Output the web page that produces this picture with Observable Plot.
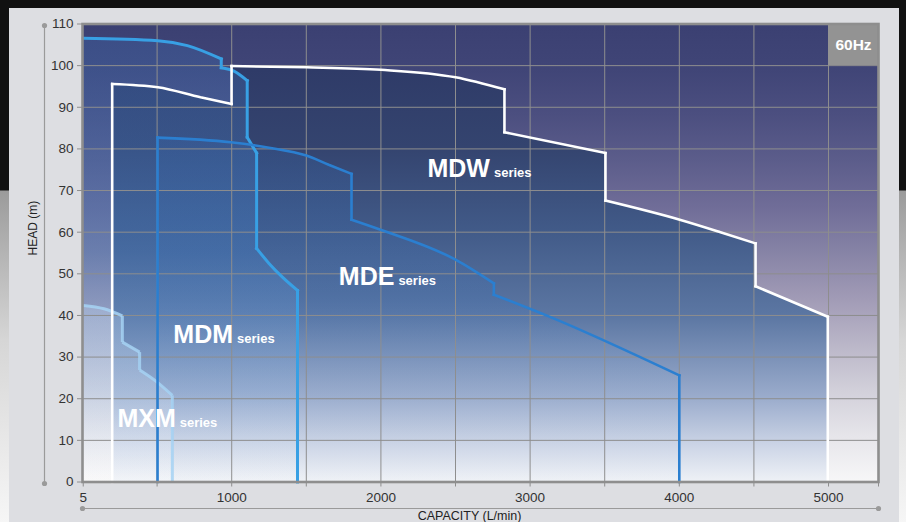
<!DOCTYPE html>
<html><head><meta charset="utf-8">
<script src="https://cdn.jsdelivr.net/npm/d3@7"></script>
<script src="https://cdn.jsdelivr.net/npm/@observablehq/plot@0.6"></script>
<style>
html,body{margin:0;padding:0;width:906px;height:522px;overflow:hidden;background:#111;}
#page{position:relative;width:906px;height:522px;background:linear-gradient(to bottom,#111 0,#111 190px,#9b9b9b 191px,#d6d6d6 340px,#f6f6f6 522px);}
#panel{position:absolute;left:9px;top:8px;width:890px;height:514px;background:#dddee2;}
#chart{position:absolute;left:0;top:0;}
</style></head><body>
<div id="page"><div id="panel"></div><div id="chart"></div></div>
<script>
// ---- data ----
const capacityTicks = [5, 500, 1000, 1500, 2000, 2500, 3000, 3500, 4000, 4500, 5000, 5335];
const capacityTickLabels = ["5", "", "1000", "", "2000", "", "3000", "", "4000", "", "5000", ""];
const capacityGrid = [500, 1000, 1500, 2000, 2500, 3000, 3500, 4000, 4500, 5000];
const headTicks = [0, 10, 20, 30, 40, 50, 60, 70, 80, 90, 100, 110];
const capacityDomain = [0, 5335];
const headDomain = [0, 110];

const mdwQ = [199, 199, 505, 791, 999, 999, 1500, 2000, 2500, 2828, 2828, 3505, 3505, 4003, 4276, 4511, 4511, 4995, 4995];
const mdwH = [0, 95.6, 94.8, 92.4, 90.8, 99.9, 99.6, 99.0, 97.2, 94.3, 84.0, 79.0, 67.6, 63.0, 60.0, 57.3, 47.0, 39.7, 0];

const mdeQ = [503, 503, 993, 1250, 1500, 1650, 1803, 1803, 1997, 2500, 2757, 2757, 3137, 4000, 4000];
const mdeH = [0, 82.7, 81.6, 80.3, 78.4, 76.2, 74.0, 63.0, 60.6, 53.4, 47.7, 45.0, 39.6, 25.6, 0];

const mdmQ = [5, 505, 703, 930, 930, 1015, 1104, 1104, 1167, 1167, 1250, 1340, 1441, 1441];
const mdmH = [106.6, 106.0, 104.8, 101.6, 99.5, 98.7, 96.4, 82.8, 79.0, 56.1, 52.5, 49.2, 46.0, 0];

const mxmQ = [5, 144, 267, 267, 383, 383, 500, 602, 602];
const mxmH = [42.4, 41.6, 39.9, 33.6, 31.2, 26.9, 24.0, 20.8, 0];

const seriesNames = ["MDW", "MDE", "MDM", "MXM"];
const labelQ = [2312, 1718, 609, 234];
const labelH = [73.2, 47.4, 33.4, 13.1];
const suffix = "series";

const badgeText = "60Hz";
const badgeQ = [5000, 5335];
const badgeH = [100, 110];

const xTitle = "CAPACITY (L/min)";
const yTitle = "HEAD (m)";

// ---- build ----
const pts = (Q, H) => Q.map((q, i) => ({q, h: H[i]}));
const mdw = pts(mdwQ, mdwH), mde = pts(mdeQ, mdeH), mdm = pts(mdmQ, mdmH), mxm = pts(mxmQ, mxmH);
const labels = seriesNames.map((name, i) => ({name, q: labelQ[i], h: labelH[i]}));
const tickLabelMap = new Map(capacityTicks.map((t, i) => [t, capacityTickLabels[i]]));

// split a stepped outline into smooth runs and vertical steps (segment id in "seg")
function segments(points) {
  const out = [];
  let seg = 0;
  let run = [points[0]];
  const flush = () => { if (run.length > 1) { run.forEach(p => out.push({...p, seg})); seg++; } };
  for (let i = 1; i < points.length; i++) {
    const a = points[i - 1], b = points[i];
    if (b.q === a.q) {
      flush();
      out.push({...a, seg}, {...b, seg}); seg++;
      run = [b];
    } else run.push(b);
  }
  flush();
  return out;
}

const LABEL_SIZE = 25;
const LABEL_FAMILY = "'Liberation Sans', Arial, sans-serif";
const cv = document.createElement("canvas").getContext("2d");
cv.font = `bold ${LABEL_SIZE}px ${LABEL_FAMILY}`;
const labelWidths = seriesNames.map(n => cv.measureText(n).width);

function gradients(index, scales, values, dims) {
  const ns = "http://www.w3.org/2000/svg";
  const top = dims.marginTop, bottom = dims.height - dims.marginBottom;
  const defs = document.createElementNS(ns, "defs");
  function grad(id, stops) {
    const g = document.createElementNS(ns, "linearGradient");
    g.setAttribute("id", id);
    g.setAttribute("gradientUnits", "userSpaceOnUse");
    g.setAttribute("x1", 0); g.setAttribute("x2", 0);
    g.setAttribute("y1", top); g.setAttribute("y2", bottom);
    for (const [o, c, a] of stops) {
      const s = document.createElementNS(ns, "stop");
      s.setAttribute("offset", o);
      s.setAttribute("stop-color", c);
      s.setAttribute("stop-opacity", a == null ? 1 : a);
      g.appendChild(s);
    }
    defs.appendChild(g);
  }
  grad("bgGrad", [[0, "#3b4072"], [0.1, "#404577"], [0.2, "#4c4f80"], [0.3, "#5c5d8b"], [0.4, "#706d98"],
    [0.5, "#8784a6"], [0.6, "#a19bb6"], [0.7, "#bab6c8"], [0.8, "#d2d0da"], [0.9, "#e6e5ea"], [1, "#f7f7f8"]]);
  grad("mdwGrad", [[0, "#2d3864"], [0.1, "#2f3b68"], [0.27, "#34446f"], [0.45, "#415a88"], [0.64, "#5c77a3"],
    [0.82, "#9cadcd"], [0.93, "#d0d8e8"], [1, "#eef1f6"]]);
  grad("mdeGrad", [[0, "#2c5aa0", 0.25], [0.6, "#3a70b8", 0.22], [1, "#ffffff", 0.05]]);
  grad("mdmGrad", [[0, "#3a64a8", 0.35], [0.5, "#4477b8", 0.42], [0.8, "#8fb0da", 0.3], [1, "#ffffff", 0.1]]);
  grad("mxmGrad", [[0, "#9cc0e6", 0.35], [0.7, "#c4d8f0", 0.32], [1, "#ffffff", 0.2]]);
  return defs;
}

const areaOf = (data, id) => Plot.area(data, {x1: "q", y1: () => 0, y2: "h", fill: `url(#${id})`});
const lineOf = (data, opts) => Plot.line(segments(data), {x: "q", y: "h", z: "seg", curve: "monotone-x",
  strokeLinejoin: "miter", strokeLinecap: "square", ...opts});

const chart = Plot.plot({
  width: 906,
  height: 522,
  marginLeft: 82,
  marginRight: 28,
  marginTop: 23.5,
  marginBottom: 40.5,
  style: {background: "transparent", fontFamily: "'Liberation Sans', Arial, sans-serif", overflow: "visible"},
  x: {domain: capacityDomain, label: null},
  y: {domain: headDomain, label: null},
  marks: [
    gradients,
    Plot.frame({fill: "url(#bgGrad)", stroke: "none"}),
    areaOf(mdw, "mdwGrad"),
    areaOf(mde, "mdeGrad"),
    areaOf(mdm, "mdmGrad"),
    areaOf(mxm, "mxmGrad"),
    Plot.gridX({ticks: capacityGrid, stroke: "#8e8e8e", strokeOpacity: 1, strokeWidth: 1}),
    Plot.gridY({ticks: headTicks.slice(1, -1), stroke: "#8e8e8e", strokeOpacity: 1, strokeWidth: 1}),
    lineOf(mxm, {stroke: "#a6d2f3", strokeWidth: 3, strokeOpacity: 0.85, strokeLinecap: "butt"}),
    lineOf(mdm, {stroke: "#38a0e4", strokeWidth: 3}),
    lineOf(mde, {stroke: "#2b7fd0", strokeWidth: 2.6}),
    lineOf(mdw, {stroke: "#ffffff", strokeWidth: 2.6}),
    Plot.rect([0], {x1: () => badgeQ[0], x2: () => badgeQ[1], y1: () => badgeH[0], y2: () => badgeH[1], fill: "#939393"}),
    Plot.text([badgeText], {x: () => (badgeQ[0] + badgeQ[1]) / 2, y: () => (badgeH[0] + badgeH[1]) / 2, text: d => d,
      fill: "white", fontWeight: "bold", fontSize: 15.5, fontFamily: "'Liberation Sans', Arial, sans-serif"}),
    Plot.text(labels, {x: "q", y: "h", text: "name", textAnchor: "start", lineAnchor: "bottom",
      fill: "white", fontSize: LABEL_SIZE, fontWeight: "bold", fontFamily: LABEL_FAMILY}),
    ...labels.map((d, i) => Plot.text([d], {x: "q", y: "h", text: () => suffix, textAnchor: "start", lineAnchor: "bottom",
      dx: labelWidths[i] + 4, fill: "white", fontSize: 13, fontWeight: "bold", fontFamily: "'Liberation Sans', Arial, sans-serif"})),
    Plot.frame({stroke: "#8e8e8e", strokeWidth: 2.6}),
    Plot.axisY({ticks: headTicks, tickSize: 5, tickPadding: 4, fontSize: 13.5, stroke: "#8e8e8e", fill: "#333", label: null}),
    Plot.axisX({ticks: capacityTicks, tickFormat: d => tickLabelMap.get(d) ?? "", tickSize: 5, tickPadding: 5,
      fontSize: 13.5, stroke: "#8e8e8e", fill: "#333", label: null}),
    // decorative secondary axis lines
    Plot.ruleX([capacityDomain[0]], {y1: headDomain[0], y2: headDomain[1], dx: -38, dy: 1.5, stroke: "#9a9a9a", strokeWidth: 1.2}),
    Plot.dot([headDomain[0], headDomain[1]], {x: () => capacityDomain[0], y: d => d, dx: -38, dy: 1.5, r: 2.6, fill: "#9a9a9a", stroke: "none"}),
    Plot.ruleY([headDomain[0]], {x1: capacityDomain[0], x2: capacityDomain[1], dy: 26.5, stroke: "#9a9a9a", strokeWidth: 1.2}),
    Plot.dot([capacityDomain[0], capacityDomain[1]], {x: d => d, y: () => headDomain[0], dy: 26.5, r: 2.6, fill: "#9a9a9a", stroke: "none"}),
    Plot.text([yTitle], {frameAnchor: "left", rotate: -90, dx: -49.5, dy: 2.5, fontSize: 12, fill: "#222"}),
    Plot.text([xTitle], {frameAnchor: "bottom", lineAnchor: "bottom", dx: -11, dy: 37.5, fontSize: 12.5, fill: "#222"})
  ]
});
document.getElementById("chart").appendChild(chart);
</script>
</body></html>
